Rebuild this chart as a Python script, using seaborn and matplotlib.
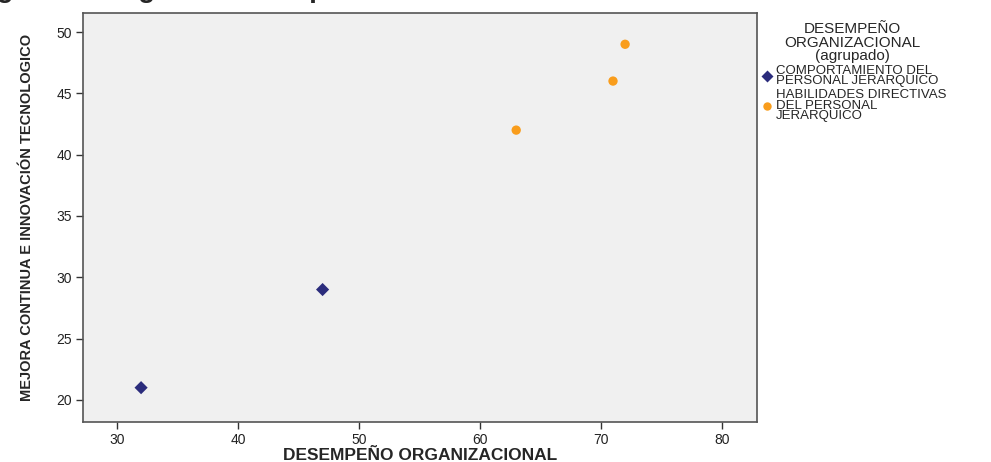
import numpy as np
import pandas as pd
import matplotlib
matplotlib.use('Agg')
import matplotlib.pyplot as plt
import seaborn as sns

# datos
desempeno = [32, 47, 63, 71, 72]
mejora = [21, 29, 42, 46, 49]
grupo = ['COMPORTAMIENTO DEL\nPERSONAL JERARQUICO'] * 2 + \
        ['HABILIDADES DIRECTIVAS\nDEL PERSONAL\nJERARQUICO'] * 3
grupos = ['COMPORTAMIENTO DEL\nPERSONAL JERARQUICO',
          'HABILIDADES DIRECTIVAS\nDEL PERSONAL\nJERARQUICO']
colores = ['#2b2c7c', '#f99d1c']
marcadores = ['D', 'o']

df = pd.DataFrame({'x': desempeno, 'y': mejora, 'grupo': grupo})

sns.set_style('white')
plt.rcParams['font.family'] = ['Liberation Sans', 'DejaVu Sans']

fig = plt.figure(figsize=(9.91, 4.62), dpi=100)
ax = fig.add_axes([83 / 991, 1 - 422 / 462, (757 - 83) / 991, (422 - 13) / 462])
ax.set_facecolor('#f0f0f0')

sns.scatterplot(data=df, x='x', y='y', hue='grupo', style='grupo',
                hue_order=grupos, style_order=grupos,
                palette=dict(zip(grupos, colores)),
                markers=dict(zip(grupos, marcadores)),
                s=45, edgecolor='none', ax=ax)

ax.set_xlim(27.2, 82.9)
ax.set_ylim(18.2, 51.55)
ax.set_xticks([30, 40, 50, 60, 70, 80])
ax.set_yticks([20, 25, 30, 35, 40, 45, 50])
for s in ax.spines.values():
    s.set_color('#555555')
    s.set_linewidth(1.2)
ax.tick_params(axis='both', direction='out', length=5, width=1, color='#333333',
               labelsize=10, labelcolor='#222222', bottom=True, left=True, pad=3)

ax.set_xlabel('DESEMPEÑO ORGANIZACIONAL', fontsize=12.5, fontweight='bold', labelpad=1)
ax.set_ylabel('MEJORA CONTINUA E INNOVACIÓN TECNOLOGICO', fontsize=10.5, fontweight='bold',
              labelpad=16)

handles, labels = ax.get_legend_handles_labels()
leg = ax.legend(handles, labels, title='DESEMPEÑO\nORGANIZACIONAL\n(agrupado)',
                loc='upper left', bbox_to_anchor=(0.995, 0.99), frameon=False,
                fontsize=9.5, title_fontsize=11, handletextpad=0.1, handlelength=1.2,
                labelspacing=0.15, markerscale=0.9, borderaxespad=0.0)
leg.get_title().set_multialignment('center')
leg.get_title().set_linespacing(0.95)
for t in leg.get_texts():
    t.set_linespacing(0.8)

# titulo cortado en la parte superior
fig.text(0.40, 1 + 3 / 462, 'Figura 1. Diagrama de dispersión de las variables de correlación',
         ha='center', va='baseline', fontsize=20, fontweight='bold')

fig.savefig('out.png', dpi=100)
